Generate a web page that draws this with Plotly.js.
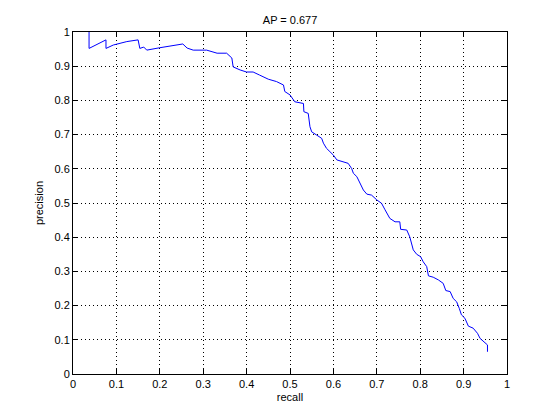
<!DOCTYPE html>
<html>
<head>
<meta charset="utf-8">
<script src="https://cdn.plot.ly/plotly-3.0.1.min.js"></script>
<style>html,body{margin:0;padding:0;background:#fff;}#chart{width:560px;height:420px;}</style>
</head>
<body>
<div id="chart"></div>
<script>
const recall = [0.037, 0.037, 0.076, 0.076, 0.093, 0.124, 0.150, 0.154, 0.163, 0.170, 0.200, 0.253, 0.263, 0.277, 0.308, 0.332, 0.354, 0.366, 0.369, 0.385, 0.400, 0.415, 0.430, 0.450, 0.469, 0.485, 0.488, 0.500, 0.511, 0.531, 0.532, 0.542, 0.546, 0.550, 0.561, 0.573, 0.577, 0.584, 0.592, 0.600, 0.608, 0.623, 0.634, 0.642, 0.646, 0.654, 0.661, 0.669, 0.677, 0.688, 0.700, 0.711, 0.719, 0.730, 0.742, 0.753, 0.755, 0.769, 0.776, 0.780, 0.784, 0.792, 0.801, 0.807, 0.815, 0.819, 0.830, 0.842, 0.853, 0.859, 0.869, 0.876, 0.884, 0.890, 0.895, 0.903, 0.911, 0.922, 0.932, 0.938, 0.949, 0.955, 0.955];
const precision = [1.000, 0.952, 0.977, 0.952, 0.962, 0.972, 0.977, 0.952, 0.956, 0.947, 0.954, 0.965, 0.953, 0.947, 0.947, 0.938, 0.938, 0.924, 0.898, 0.889, 0.883, 0.883, 0.874, 0.862, 0.855, 0.845, 0.826, 0.816, 0.796, 0.791, 0.767, 0.762, 0.723, 0.708, 0.699, 0.689, 0.675, 0.660, 0.650, 0.640, 0.626, 0.621, 0.616, 0.601, 0.587, 0.577, 0.558, 0.538, 0.526, 0.523, 0.509, 0.499, 0.480, 0.455, 0.445, 0.445, 0.423, 0.421, 0.401, 0.382, 0.363, 0.350, 0.343, 0.328, 0.314, 0.287, 0.283, 0.275, 0.265, 0.244, 0.241, 0.221, 0.211, 0.192, 0.173, 0.163, 0.140, 0.134, 0.119, 0.104, 0.090, 0.085, 0.065];
const tickVals = [0, 0.1, 0.2, 0.3, 0.4, 0.5, 0.6, 0.7, 0.8, 0.9, 1];
const tickText = ["0", "0.1", "0.2", "0.3", "0.4", "0.5", "0.6", "0.7", "0.8", "0.9", "1"];
const titleText = "AP = 0.677";

const axisCommon = {
  range: [0, 1],
  tickmode: 'array',
  tickvals: tickVals,
  ticktext: tickText,
  ticks: 'inside',
  ticklen: 5,
  tickcolor: '#000',
  tickwidth: 1,
  showline: true,
  linecolor: '#000',
  linewidth: 1,
  mirror: 'ticks',
  showgrid: true,
  gridcolor: '#000',
  gridwidth: 1,
  griddash: '1px,3px',
  zeroline: false,
  tickfont: {family: 'Liberation Sans, Arial, sans-serif', size: 11, color: '#000'}
};

Plotly.newPlot('chart', [{
  x: recall,
  y: precision,
  type: 'scatter',
  mode: 'lines',
  line: {color: '#0000ff', width: 1},
  hoverinfo: 'skip'
}], {
  width: 560,
  height: 420,
  margin: {l: 73, r: 53, t: 32, b: 46},
  paper_bgcolor: '#fff',
  plot_bgcolor: '#fff',
  showlegend: false,
  font: {family: 'Liberation Sans, Arial, sans-serif', size: 11, color: '#000'},
  title: {text: titleText, x: 0.518, xanchor: 'center', y: 0.952, yanchor: 'middle', font: {size: 11, color: '#000'}},
  xaxis: Object.assign({}, axisCommon, {title: {text: 'recall', standoff: 4, font: {size: 11}}}),
  yaxis: Object.assign({}, axisCommon, {title: {text: 'precision', standoff: 8, font: {size: 11}}})
}, {displayModeBar: false, staticPlot: true});
</script>
</body>
</html>
